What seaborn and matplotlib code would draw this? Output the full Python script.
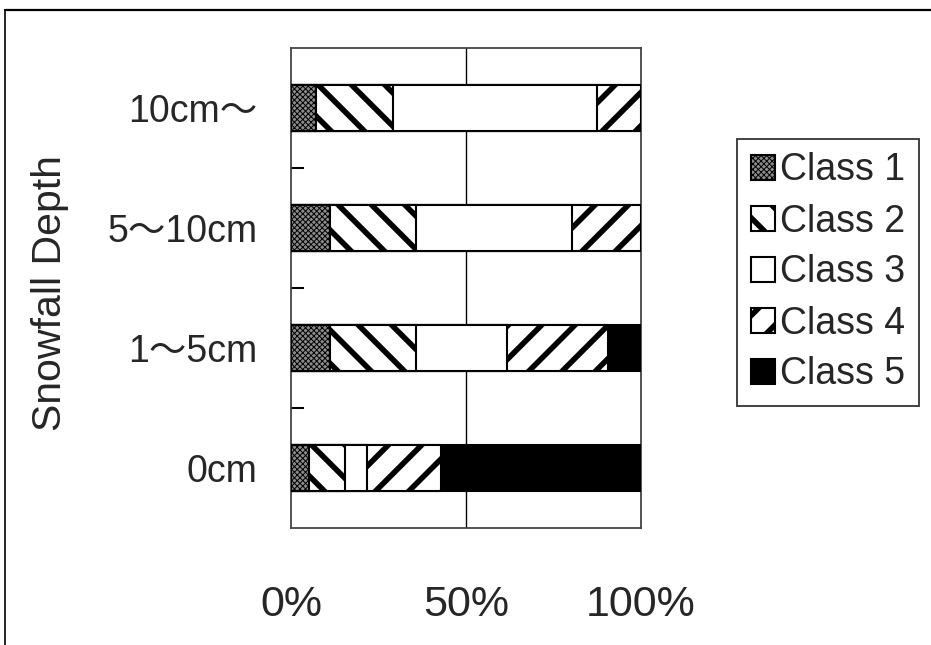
import matplotlib
matplotlib.use("Agg")
import matplotlib.pyplot as plt
from matplotlib.lines import Line2D
from matplotlib.patches import Patch
from matplotlib.ticker import FixedLocator
import pandas as pd
import seaborn as sns

# Share of each class (%) per snowfall-depth band
categories = ["10cm～", "5～10cm", "1～5cm", "0cm"]
class1 = [7.1, 11.1, 11.1, 5.2]
class2 = [22.1, 24.5, 24.5, 10.2]
class3 = [58.1, 44.8, 26.0, 6.4]
class4 = [12.7, 19.6, 29.1, 21.0]
class5 = [0.0, 0.0, 9.3, 57.2]
class_names = ["Class 1", "Class 2", "Class 3", "Class 4", "Class 5"]
x_ticks = [0, 50, 100]
x_tick_labels = ["0%", "50%", "100%"]

sns.set_theme(style="white")
plt.rcParams["font.family"] = ["Liberation Sans", "Noto Sans CJK JP", "DejaVu Sans"]
plt.rcParams["hatch.linewidth"] = 4.0
plt.rcParams["hatch.color"] = "black"

df = pd.DataFrame({"depth": categories, "c1": class1, "c2": class2,
                   "c3": class3, "c4": class4, "c5": class5})
cols = ["c1", "c2", "c3", "c4", "c5"]
cum = df[cols].cumsum(axis=1)

styles = {
    "c1": dict(face="#8c8c8c", hatch="xxxxxx", hlw=0.7),
    "c2": dict(face="white", hatch="\\", hlw=4.0),
    "c3": dict(face="white", hatch=None, hlw=None),
    "c4": dict(face="white", hatch="/", hlw=4.0),
    "c5": dict(face="black", hatch=None, hlw=None),
}


def apply_hatch(patch, st):
    if st["hatch"]:
        patch.set_hatch(st["hatch"])
        if hasattr(patch, "set_hatch_linewidth"):
            patch.set_hatch_linewidth(st["hlw"])


fig = plt.figure(figsize=(9.31, 6.45), dpi=100)
ax = fig.add_axes([291 / 931, 1 - 528 / 645, 350 / 931, 480 / 645])

# Stacked bars: draw cumulative totals from the last class back to the first
for col in reversed(cols):
    st = styles[col]
    plot_df = pd.DataFrame({"depth": categories, "value": cum[col].values})
    sns.barplot(data=plot_df, x="value", y="depth", order=categories,
                orient="h", width=0.39, color=st["face"], saturation=1,
                edgecolor="black", linewidth=1.5, ax=ax, zorder=3)
    for p in ax.containers[-1]:
        p.set_facecolor(st["face"])
        p.set_edgecolor("black")
        apply_hatch(p, st)

ax.set_xlim(0, 100)
ax.set_ylim(3.5, -0.5)
ax.axvline(50, color="black", lw=1.0, zorder=1)

ax.set_xticks(x_ticks)
ax.set_xticklabels(x_tick_labels, fontsize=31)
ax.tick_params(axis="x", length=0, pad=41)
ax.set_xlabel("")

ax.set_yticks(range(len(categories)))
ax.set_yticklabels(categories, fontsize=27)
ax.tick_params(axis="y", which="major", length=0, pad=24)
ax.yaxis.set_minor_locator(FixedLocator([0.5, 1.5, 2.5]))
ax.tick_params(axis="y", which="minor", left=True, direction="in", length=9,
               width=1.5, color="black")
ax.set_ylabel("Snowfall Depth", fontsize=29.5)
ax.yaxis.set_label_coords(-0.635, 0.49)

for s in ax.spines.values():
    s.set_visible(True)
    s.set_color("#444444")
    s.set_linewidth(1.3)

# Legend
handles = [Patch(facecolor=styles[c]["face"], edgecolor="black", linewidth=1.5,
                 hatch=styles[c]["hatch"], label=n)
           for c, n in zip(cols, class_names)]
leg = fig.legend(handles=handles, loc="upper left",
                 bbox_to_anchor=(737 / 931, 1 - 139 / 645),
                 fontsize=27, frameon=True, fancybox=False,
                 handlelength=0.65, handleheight=0.65, handletextpad=0.15,
                 labelspacing=0.4, borderpad=0.36, borderaxespad=0)
for p, c in zip(leg.get_patches(), cols):
    apply_hatch(p, styles[c])
leg.get_frame().set_edgecolor("black")
leg.get_frame().set_linewidth(1.3)

# Outer chart border (runs off the right and bottom edges)
fig.add_artist(Line2D([5 / 931, 1], [1 - 10 / 645, 1 - 10 / 645],
                      color="black", lw=1.6, transform=fig.transFigure))
fig.add_artist(Line2D([5 / 931, 5 / 931], [1 - 10 / 645, 0],
                      color="black", lw=1.2, transform=fig.transFigure))

fig.savefig("out.png", dpi=100, facecolor="white")
